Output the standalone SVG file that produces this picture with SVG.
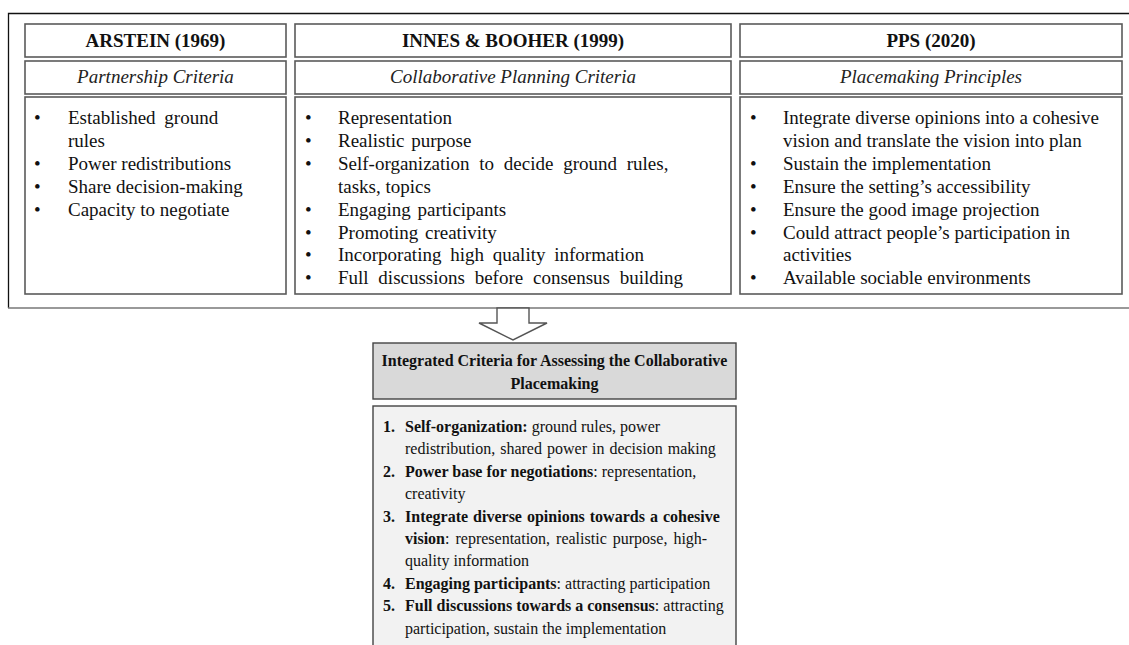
<svg xmlns="http://www.w3.org/2000/svg" width="1129" height="645" viewBox="0 0 1129 645">
<style>
text{font-family:"Liberation Serif","Times New Roman",serif;fill:#111}
.hdr{font-size:19px;font-weight:bold;text-anchor:middle}
.sub{font-size:19px;font-style:italic;text-anchor:middle;fill:#222}
.li{font-size:19px;fill:#222}
.bt{font-size:16px;font-weight:bold;text-anchor:middle}
.bl{font-size:16px;fill:#222}
.b{font-weight:bold;fill:#111}
.box{fill:#fff;stroke:#5a5a5a;stroke-width:1.6}
</style>
<rect width="1129" height="645" fill="#fff"/>
<g id="frame">
<path d="M1129,13.5 H8.5 V308" fill="none" stroke="#111" stroke-width="1.3"/>
<path d="M8,308 H1129" fill="none" stroke="#777" stroke-width="1.6"/>
</g>
<g id="arstein">
<rect class="box" x="25" y="24" width="261" height="33"/>
<text class="hdr" x="155.5" y="47">ARSTEIN (1969)</text>
<rect class="box" x="25" y="61" width="261" height="33"/>
<text class="sub" x="155.5" y="83">Partnership Criteria</text>
<rect class="box" x="25" y="97" width="261" height="197"/>
<g class="li">
<text x="34" y="124">•</text><text x="68" y="124" word-spacing="4">Established ground</text>
<text x="68" y="146.9">rules</text>
<text x="34" y="169.8">•</text><text x="68" y="169.8">Power redistributions</text>
<text x="34" y="192.7">•</text><text x="68" y="192.7">Share decision-making</text>
<text x="34" y="215.6">•</text><text x="68" y="215.6">Capacity to negotiate</text>
</g>
</g>
<g id="innes-booher">
<rect class="box" x="295" y="24" width="436" height="33"/>
<text class="hdr" x="513" y="47">INNES &amp; BOOHER (1999)</text>
<rect class="box" x="295" y="61" width="436" height="33"/>
<text class="sub" x="513" y="83">Collaborative Planning Criteria</text>
<rect class="box" x="295" y="97" width="436" height="197"/>
<g class="li">
<text x="305" y="124">•</text><text x="338" y="124">Representation</text>
<text x="305" y="146.9">•</text><text x="338" y="146.9" word-spacing="2">Realistic purpose</text>
<text x="305" y="169.8">•</text><text x="338" y="169.8" word-spacing="5">Self-organization to decide ground rules,</text>
<text x="338" y="192.7">tasks, topics</text>
<text x="305" y="215.6">•</text><text x="338" y="215.6" word-spacing="2">Engaging participants</text>
<text x="305" y="238.5">•</text><text x="338" y="238.5" word-spacing="2">Promoting creativity</text>
<text x="305" y="261.4">•</text><text x="338" y="261.4" word-spacing="4">Incorporating high quality information</text>
<text x="305" y="284.3">•</text><text x="338" y="284.3" word-spacing="5">Full discussions before consensus building</text>
</g>
</g>
<g id="pps">
<rect class="box" x="740" y="24" width="382" height="33"/>
<text class="hdr" x="931" y="47">PPS (2020)</text>
<rect class="box" x="740" y="61" width="382" height="33"/>
<text class="sub" x="931" y="83">Placemaking Principles</text>
<rect class="box" x="740" y="97" width="382" height="197"/>
<g class="li">
<text x="750" y="124">•</text><text x="783" y="124">Integrate diverse opinions into a cohesive</text>
<text x="783" y="146.9">vision and translate the vision into plan</text>
<text x="750" y="169.8">•</text><text x="783" y="169.8">Sustain the implementation</text>
<text x="750" y="192.7">•</text><text x="783" y="192.7">Ensure the setting’s accessibility</text>
<text x="750" y="215.6">•</text><text x="783" y="215.6">Ensure the good image projection</text>
<text x="750" y="238.5">•</text><text x="783" y="238.5">Could attract people’s participation in</text>
<text x="783" y="261.4">activities</text>
<text x="750" y="284.3">•</text><text x="783" y="284.3">Available sociable environments</text>
</g>
</g>
<g id="connectors">
<polygon points="497,308 529,308 529,323 547,323 513,340 479,323 497,323" fill="#fff" stroke="#555" stroke-width="1.4" stroke-linejoin="miter"/>
</g>
<g id="integrated-title">
<rect x="373" y="343" width="363" height="56" fill="#d9d9d9" stroke="#444" stroke-width="1.4"/>
<text class="bt" x="554.5" y="366">Integrated Criteria for Assessing the Collaborative</text>
<text class="bt" x="554.5" y="389">Placemaking</text>
</g>
<g id="integrated-criteria">
<rect x="373" y="406" width="363" height="245" fill="#f2f2f2" stroke="#444" stroke-width="1.4"/>
<g class="bl">
<text x="383" y="432" class="b">1.</text><text x="405" y="432"><tspan class="b">Self-organization:</tspan>  ground rules, power</text>
<text x="405" y="454.4" word-spacing="1">redistribution, shared power in decision making</text>
<text x="383" y="476.8" class="b">2.</text><text x="405" y="476.8"><tspan class="b">Power base for negotiations</tspan>: representation,</text>
<text x="405" y="499.2">creativity</text>
<text x="383" y="521.6" class="b">3.</text><text x="405" y="521.6" word-spacing="1"><tspan class="b">Integrate diverse opinions towards a cohesive</tspan></text>
<text x="405" y="544" word-spacing="2"><tspan class="b">vision</tspan>: representation, realistic purpose, high-</text>
<text x="405" y="566.4">quality information</text>
<text x="383" y="588.8" class="b">4.</text><text x="405" y="588.8"><tspan class="b">Engaging participants</tspan>: attracting participation</text>
<text x="383" y="611.2" class="b">5.</text><text x="405" y="611.2"><tspan class="b">Full discussions towards a consensus</tspan>: attracting</text>
<text x="405" y="633.6">participation, sustain the implementation</text>
</g>
</g>
</svg>
